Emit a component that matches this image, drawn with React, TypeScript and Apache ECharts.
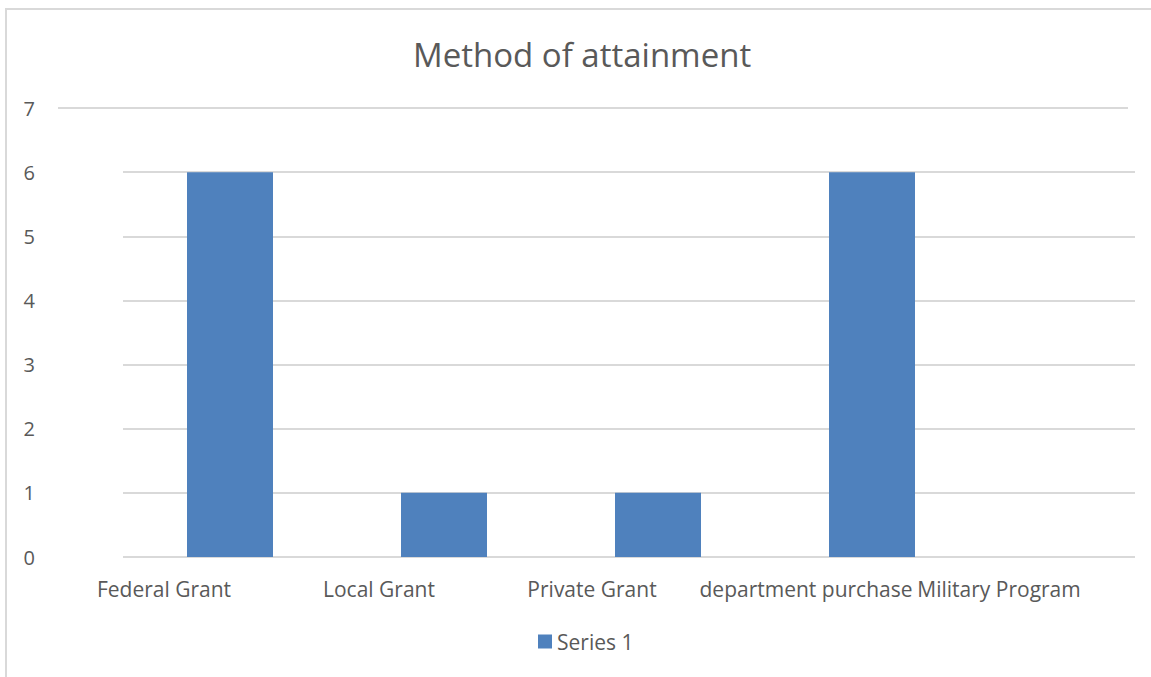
import React, { useEffect, useRef } from "react";
import * as echarts from "echarts";

const titleText = "Method of attainment";
const categories = ["Federal Grant", "Local Grant", "Private Grant", "department purchase", "Military Program"];
const labelShift = [66, 65, 66, 66, 87];
const seriesName = "Series 1";
const seriesValues = [6, 1, 1, 6, 0];
const yMin = 0;
const yMax = 7;
const yStep = 1;

const FONT = "'Open Sans', sans-serif";
const TEXT = "#595959";
const GRID = "#D9D9D9";
const BAR = "#4F81BD";
const CW = 1251;

export default function App() {
  const ref = useRef<HTMLDivElement>(null);
  useEffect(() => {
    if (!ref.current) return;
    const chart = echarts.init(ref.current, undefined, { renderer: "svg" });
    chart.setOption({
      animation: false,
      title: {
        text: titleText,
        left: 408,
        top: 33,
        textStyle: { fontFamily: FONT, fontSize: 33, fontWeight: "normal", color: TEXT },
      },
      legend: {
        data: [seriesName],
        left: 533,
        top: 626,
        icon: "rect",
        itemWidth: 14,
        itemHeight: 14,
        itemGap: 5,
        textStyle: { fontFamily: FONT, fontSize: 21, color: TEXT },
      },
      grid: [
        { left: 123, width: 1070, top: 108, height: 449 },
        { left: 123, right: CW - 1135, top: 108, height: 449 },
        { left: 58, right: CW - 1128, top: 108, height: 449 },
      ],
      xAxis: [
        {
          gridIndex: 0,
          type: "category",
          data: categories.map((c, i) => ({
            value: c,
            textStyle: { padding: [0, labelShift[i] * 2, 0, 0] },
          })),
          axisLine: { show: false },
          axisTick: { show: false },
          axisLabel: { interval: 0, margin: 21, fontFamily: FONT, fontSize: 21, color: TEXT },
        },
        { gridIndex: 1, type: "category", data: categories, show: false },
        { gridIndex: 2, type: "category", data: categories, show: false },
      ],
      yAxis: [
        { gridIndex: 0, type: "value", min: yMin, max: yMax, interval: yStep, show: false },
        {
          gridIndex: 1,
          type: "value",
          min: yMin,
          max: yMax,
          interval: yStep,
          axisLine: { show: false },
          axisTick: { show: false },
          axisLabel: { margin: 88, fontFamily: FONT, fontSize: 20, color: TEXT },
          splitLine: { show: true, showMaxLine: false, lineStyle: { color: GRID, width: 2 } },
        },
        {
          gridIndex: 2,
          type: "value",
          min: yMin,
          max: yMax,
          interval: yMax - yMin,
          axisLine: { show: false },
          axisTick: { show: false },
          axisLabel: { show: false },
          splitLine: { show: true, showMinLine: false, lineStyle: { color: GRID, width: 2 } },
        },
      ],
      series: [
        {
          name: seriesName,
          type: "bar",
          xAxisIndex: 0,
          yAxisIndex: 0,
          data: seriesValues,
          barWidth: 86,
          itemStyle: { color: BAR },
        },
      ],
    });
    return () => chart.dispose();
  }, []);

  return (
    <div style={{ position: "fixed", left: 0, top: 0, width: 1151, height: 677, background: "#fff", overflow: "hidden" }}>
      <div
        style={{
          position: "absolute",
          left: 5,
          top: 8,
          width: 1300,
          height: 800,
          border: "2px solid " + GRID,
          boxSizing: "border-box",
        }}
      />
      <div ref={ref} style={{ position: "absolute", left: 0, top: 0, width: CW, height: 677 }} />
    </div>
  );
}
